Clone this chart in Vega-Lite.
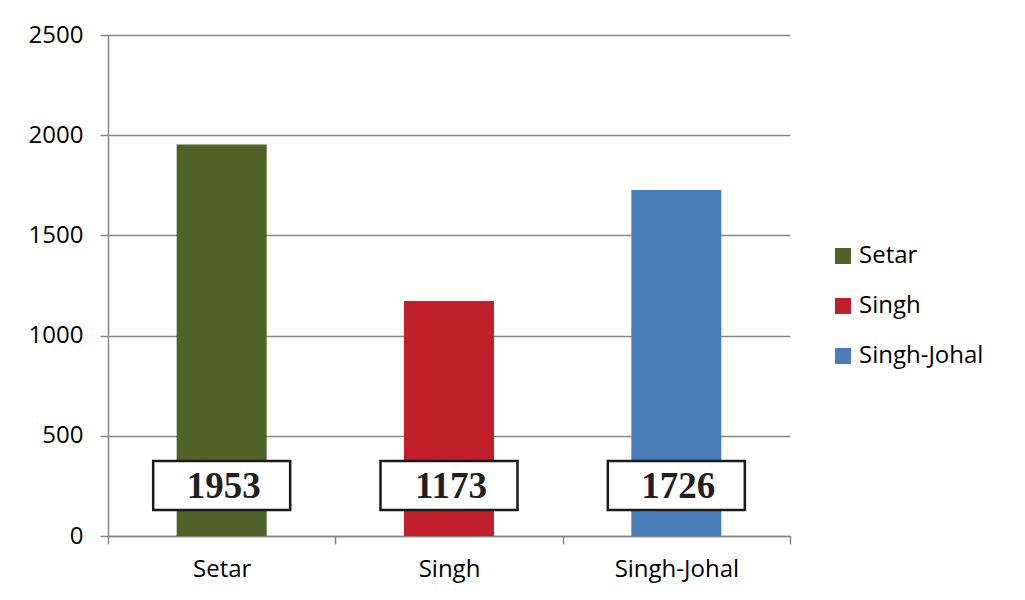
{
  "$schema": "https://vega.github.io/schema/vega-lite/v6.json",
  "autosize": {"type": "none"},
  "padding": {"left": 108, "top": 35, "right": 235, "bottom": 64},
  "width": 682,
  "height": 501,
  "background": "white",
  "config": {
    "view": {"stroke": null},
    "font": "Open Sans",
    "axis": {"labelFont": "Open Sans", "labelFontSize": 24, "labelColor": "#000000", "titleFontSize": 0}
  },
  "data": {
    "values": [
      {"name": "Setar", "value": 1953},
      {"name": "Singh", "value": 1173},
      {"name": "Singh-Johal", "value": 1726}
    ]
  },
  "encoding": {
    "x": {
      "field": "name",
      "type": "nominal",
      "sort": null,
      "title": null,
      "scale": {"paddingInner": 0, "paddingOuter": 0},
      "axis": {
        "labelAngle": 0,
        "tickBand": "extent",
        "domainColor": "#868686",
        "domainWidth": 1.5,
        "tickColor": "#868686",
        "tickWidth": 1.5,
        "tickSize": 8,
        "labelPadding": 13,
        "grid": false
      }
    }
  },
  "layer": [
    {
      "mark": {"type": "bar", "width": 90},
      "encoding": {
        "y": {
          "field": "value",
          "type": "quantitative",
          "title": null,
          "scale": {"domain": [0, 2500], "nice": false, "zero": true},
          "axis": {
            "values": [0, 500, 1000, 1500, 2000, 2500],
            "format": "d",
            "grid": true,
            "gridColor": "#868686",
            "gridWidth": 1.5,
            "domainColor": "#868686",
            "domainWidth": 1.5,
            "tickColor": "#868686",
            "tickWidth": 1.5,
            "tickSize": 8,
            "labelPadding": 17
          }
        },
        "color": {
          "field": "name",
          "type": "nominal",
          "sort": null,
          "scale": {
            "domain": ["Setar", "Singh", "Singh-Johal"],
            "range": ["#4f6228", "#c0202a", "#4a7ebb"]
          },
          "legend": {
            "title": null,
            "orient": "none",
            "legendX": 723,
            "legendY": 209,
            "symbolType": "square",
            "symbolSize": 256,
            "symbolStrokeWidth": 0,
            "labelFontSize": 24,
            "labelFont": "Open Sans",
            "labelColor": "#000000",
            "rowPadding": 26,
            "labelOffset": 4
          }
        }
      }
    },
    {
      "mark": {"type": "bar", "width": 137, "fill": "white", "stroke": "#1a1a1a", "strokeWidth": 2.5},
      "encoding": {
        "y": {"datum": 130, "type": "quantitative", "scale": {"domain": [0, 2500], "nice": false}},
        "y2": {"datum": 374}
      }
    },
    {
      "mark": {"type": "text", "font": "Liberation Serif", "fontWeight": "bold", "fontSize": 37, "color": "#231f20", "baseline": "middle", "dy": 2, "dx": 2},
      "encoding": {
        "y": {"datum": 252, "type": "quantitative", "scale": {"domain": [0, 2500], "nice": false}},
        "text": {"field": "value", "type": "quantitative", "format": "d"}
      }
    }
  ]
}
